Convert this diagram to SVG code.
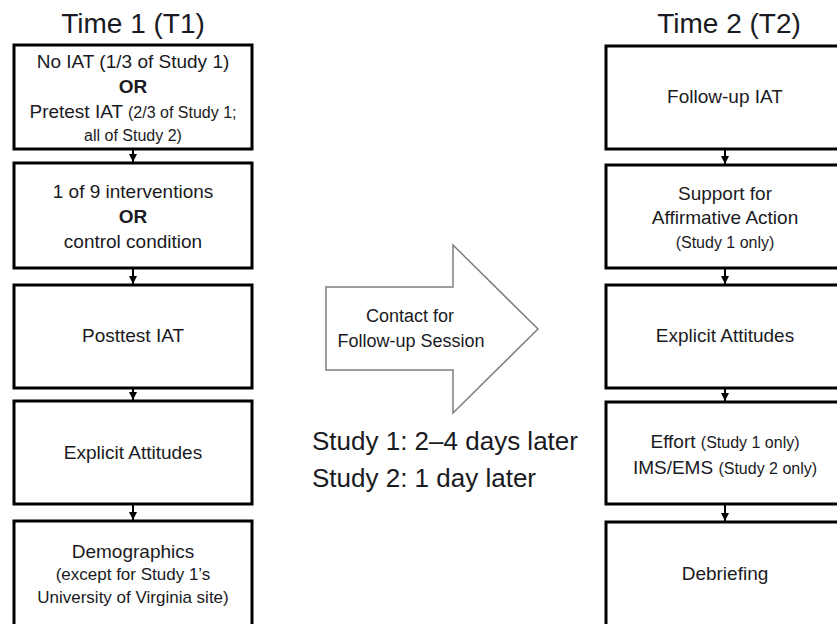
<svg xmlns="http://www.w3.org/2000/svg" width="837" height="624" viewBox="0 0 837 624">
<style>
text{font-family:"Liberation Sans",Arial,sans-serif;fill:#1a1a22;text-anchor:middle}
.box{fill:#fff;stroke:#000;stroke-width:3}
.t{font-size:19px}
.s{font-size:16px}
.m{font-size:17px}
.b{font-weight:bold}
.title{font-size:28px}
.conn{stroke:#000;stroke-width:2;fill:none}
</style>
<defs>
<marker id="ah" markerUnits="userSpaceOnUse" markerWidth="9" markerHeight="8" refX="8" refY="4" orient="auto">
<path d="M0,0 L8,4 L0,8 Z" fill="#000"/>
</marker>
</defs>
<rect width="837" height="624" fill="#fff"/>
<text class="title" x="133" y="33">Time 1 (T1)</text>
<text class="title" x="729" y="33">Time 2 (T2)</text>

<g id="connectors">
<line class="conn" x1="133" y1="150" x2="133" y2="162" marker-end="url(#ah)"/>
<line class="conn" x1="133" y1="269" x2="133" y2="284" marker-end="url(#ah)"/>
<line class="conn" x1="133" y1="389" x2="133" y2="400" marker-end="url(#ah)"/>
<line class="conn" x1="133" y1="505" x2="133" y2="520" marker-end="url(#ah)"/>
<line class="conn" x1="725" y1="150" x2="725" y2="164" marker-end="url(#ah)"/>
<line class="conn" x1="725" y1="269" x2="725" y2="284" marker-end="url(#ah)"/>
<line class="conn" x1="725" y1="389" x2="725" y2="401" marker-end="url(#ah)"/>
<line class="conn" x1="725" y1="505" x2="725" y2="521" marker-end="url(#ah)"/>
<g id="contact-arrow">
<path d="M326,287 L453,287 L453,245 L538,329 L453,413 L453,370 L326,370 Z" fill="#fff" stroke="#7f7f7f" stroke-width="1.5"/>
<text style="font-size:18px" x="410" y="322">Contact for</text>
<text style="font-size:18px" x="411" y="347">Follow-up Session</text>
</g>
</g>

<g id="t1-pretest">
<rect class="box" x="14" y="45" width="238" height="104"/>
<text class="t" x="133" y="68">No IAT (1/3 of Study 1)</text>
<text class="t b" x="133" y="93">OR</text>
<text x="133" y="118"><tspan class="t">Pretest IAT </tspan><tspan class="s">(2/3 of Study 1;</tspan></text>
<text class="s" x="133" y="141">all of Study 2)</text>
</g>
<g id="t1-intervention">
<rect class="box" x="14" y="163" width="238" height="105"/>
<text class="t" x="133" y="198">1 of 9 interventions</text>
<text class="t b" x="133" y="223">OR</text>
<text class="t" x="133" y="248">control condition</text>
</g>
<g id="t1-posttest">
<rect class="box" x="14" y="285" width="238" height="103"/>
<text class="t" x="133" y="342">Posttest IAT</text>
</g>
<g id="t1-explicit">
<rect class="box" x="14" y="401" width="238" height="103"/>
<text class="t" x="133" y="459">Explicit Attitudes</text>
</g>
<g id="t1-demographics">
<rect class="box" x="14" y="521" width="238" height="120"/>
<text class="t" x="133" y="558">Demographics</text>
<text class="m" x="133" y="580">(except for Study 1’s</text>
<text class="m" x="133" y="603">University of Virginia site)</text>
</g>

<g id="t2-followup">
<rect class="box" x="606" y="46" width="238" height="103"/>
<text class="t" x="725" y="103">Follow-up IAT</text>
</g>
<g id="t2-support">
<rect class="box" x="606" y="165" width="238" height="103"/>
<text class="t" x="725" y="200">Support for</text>
<text class="t" x="725" y="224">Affirmative Action</text>
<text class="s" x="725" y="248">(Study 1 only)</text>
</g>
<g id="t2-explicit">
<rect class="box" x="606" y="285" width="238" height="103"/>
<text class="t" x="725" y="342">Explicit Attitudes</text>
</g>
<g id="t2-effort">
<rect class="box" x="606" y="402" width="238" height="102"/>
<text x="725" y="448"><tspan class="t">Effort </tspan><tspan class="s">(Study 1 only)</tspan></text>
<text x="725" y="474"><tspan class="t">IMS/EMS </tspan><tspan class="s">(Study 2 only)</tspan></text>
</g>
<g id="t2-debriefing">
<rect class="box" x="606" y="522" width="238" height="120"/>
<text class="t" x="725" y="580">Debriefing</text>
</g>

<text style="font-size:26px;text-anchor:start" x="312" y="450">Study 1: 2–4 days later</text>
<text style="font-size:26px;text-anchor:start" x="312" y="487">Study 2: 1 day later</text>
</svg>
